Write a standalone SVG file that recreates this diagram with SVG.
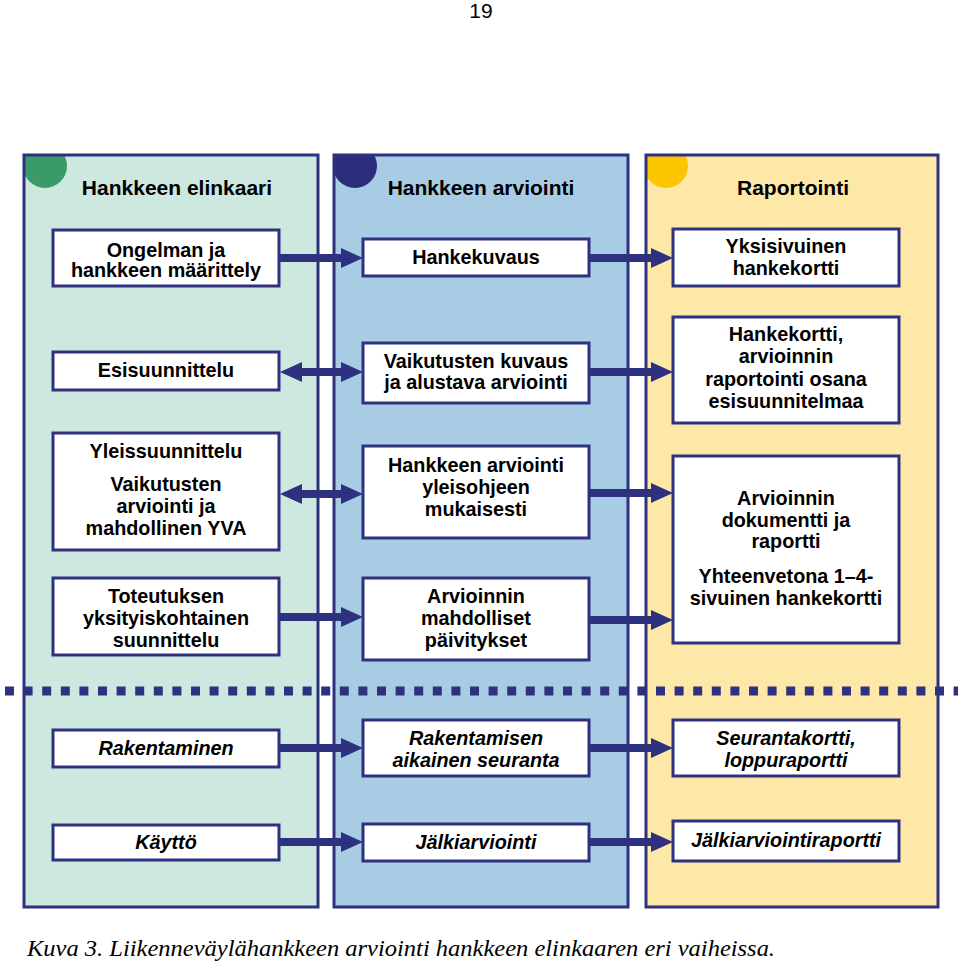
<svg xmlns="http://www.w3.org/2000/svg" width="960" height="967" viewBox="0 0 960 967">
<style>
.col{stroke:#2e3180;stroke-width:3}
.box{fill:#fff;stroke:#2e3180;stroke-width:3}
.hd{font-family:"Liberation Sans",Arial,sans-serif;font-weight:bold;font-size:21px;fill:#000;text-anchor:middle}
.t{font-family:"Liberation Sans",Arial,sans-serif;font-weight:bold;font-size:19.8px;fill:#000;text-anchor:middle}
.i{font-style:italic}
.arr{stroke:#2e3180;stroke-width:8;fill:none;marker-end:url(#ah)}
.dbl{marker-start:url(#ah)}
.dots{stroke:#2e3180;stroke-width:9;stroke-dasharray:9 9.6;fill:none}
</style>
<defs>
<marker id="ah" markerUnits="userSpaceOnUse" markerWidth="22" markerHeight="20" refX="0" refY="10" orient="auto-start-reverse" viewBox="0 0 22 20">
<path d="M0,0 L22,10 L0,20 z" fill="#2e3180"/>
</marker>
<clipPath id="c1"><rect x="24" y="155" width="294" height="752"/></clipPath>
<clipPath id="c2"><rect x="334" y="155" width="294" height="752"/></clipPath>
<clipPath id="c3"><rect x="646" y="155" width="292" height="752"/></clipPath>
</defs>
<rect width="960" height="967" fill="#fff"/>
<text x="481" y="18" font-family="'Liberation Sans',Arial,sans-serif" font-size="21" text-anchor="middle">19</text>

<g id="col-elinkaari">
<rect x="24" y="155" width="294" height="752" fill="#cde9df"/>
<circle cx="45" cy="166" r="22" fill="#3a9a68" clip-path="url(#c1)"/>
<rect class="col" x="24" y="155" width="294" height="752" fill="none"/>
<text class="hd" x="177" y="195">Hankkeen elinkaari</text>
</g>
<g id="col-arviointi">
<rect x="334" y="155" width="294" height="752" fill="#a8cce4"/>
<circle cx="355" cy="166" r="22" fill="#2b2d7c" clip-path="url(#c2)"/>
<rect class="col" x="334" y="155" width="294" height="752" fill="none"/>
<text class="hd" x="481" y="195">Hankkeen arviointi</text>
</g>
<g id="col-raportointi">
<rect x="646" y="155" width="292" height="752" fill="#fde8a8"/>
<circle cx="666" cy="166" r="22" fill="#fbc500" clip-path="url(#c3)"/>
<rect class="col" x="646" y="155" width="292" height="752" fill="none"/>
<text class="hd" x="793" y="195">Raportointi</text>
</g>

<path class="dots" d="M5,691 H958"/>

<g id="n-ongelma"><rect class="box" x="53" y="230" width="226" height="56"/>
<text class="t" x="166" y="257">Ongelman ja</text><text class="t" x="166" y="277">hankkeen määrittely</text></g>
<g id="n-esisuunnittelu"><rect class="box" x="53" y="352" width="226" height="38"/>
<text class="t" x="166" y="377">Esisuunnittelu</text></g>
<g id="n-yleissuunnittelu"><rect class="box" x="53" y="433" width="226" height="117"/>
<text class="t" x="166" y="458">Yleissuunnittelu</text><text class="t" x="166" y="491">Vaikutusten</text><text class="t" x="166" y="513">arviointi ja</text><text class="t" x="166" y="535">mahdollinen YVA</text></g>
<g id="n-toteutus"><rect class="box" x="53" y="578" width="226" height="77"/>
<text class="t" x="166" y="603">Toteutuksen</text><text class="t" x="166" y="625">yksityiskohtainen</text><text class="t" x="166" y="647">suunnittelu</text></g>
<g id="n-rakentaminen"><rect class="box" x="53" y="730" width="226" height="37"/>
<text class="t i" x="166" y="755">Rakentaminen</text></g>
<g id="n-kaytto"><rect class="box" x="53" y="825" width="226" height="35"/>
<text class="t i" x="166" y="849">Käyttö</text></g>

<g id="n-hankekuvaus"><rect class="box" x="363" y="239" width="226" height="37"/>
<text class="t" x="476" y="264">Hankekuvaus</text></g>
<g id="n-vaikutusten-kuvaus"><rect class="box" x="363" y="343" width="226" height="60"/>
<text class="t" x="476" y="368">Vaikutusten kuvaus</text><text class="t" x="476" y="389">ja alustava arviointi</text></g>
<g id="n-hankkeen-arviointi"><rect class="box" x="363" y="446" width="226" height="92"/>
<text class="t" x="476" y="472">Hankkeen arviointi</text><text class="t" x="476" y="494">yleisohjeen</text><text class="t" x="476" y="516">mukaisesti</text></g>
<g id="n-paivitykset"><rect class="box" x="363" y="578" width="226" height="82"/>
<text class="t" x="476" y="603">Arvioinnin</text><text class="t" x="476" y="625">mahdolliset</text><text class="t" x="476" y="647">päivitykset</text></g>
<g id="n-seuranta"><rect class="box" x="363" y="720" width="226" height="56"/>
<text class="t i" x="476" y="745">Rakentamisen</text><text class="t i" x="476" y="767">aikainen seuranta</text></g>
<g id="n-jalkiarviointi"><rect class="box" x="363" y="824" width="226" height="37"/>
<text class="t i" x="476" y="849">Jälkiarviointi</text></g>

<g id="n-yksisivuinen"><rect class="box" x="673" y="229" width="226" height="57"/>
<text class="t" x="786" y="253">Yksisivuinen</text><text class="t" x="786" y="275">hankekortti</text></g>
<g id="n-hankekortti"><rect class="box" x="673" y="317" width="226" height="106"/>
<text class="t" x="786" y="341">Hankekortti,</text><text class="t" x="786" y="363">arvioinnin</text><text class="t" x="786" y="386">raportointi osana</text><text class="t" x="786" y="408">esisuunnitelmaa</text></g>
<g id="n-dokumentti"><rect class="box" x="673" y="456" width="226" height="187"/>
<text class="t" x="786" y="505">Arvioinnin</text><text class="t" x="786" y="527">dokumentti ja</text><text class="t" x="786" y="548">raportti</text><text class="t" x="786" y="583">Yhteenvetona 1–4-</text><text class="t" x="786" y="605">sivuinen hankekortti</text></g>
<g id="n-seurantakortti"><rect class="box" x="673" y="720" width="226" height="56"/>
<text class="t i" x="786" y="745">Seurantakortti,</text><text class="t i" x="786" y="767">loppuraportti</text></g>
<g id="n-jalkiraportti"><rect class="box" x="673" y="821" width="226" height="40"/>
<text class="t i" x="786" y="847">Jälkiarviointiraportti</text></g>

<g id="connectors">
<line class="arr" x1="280" y1="258" x2="341" y2="258"/>
<line class="arr" x1="590" y1="258" x2="651" y2="258"/>
<line class="arr dbl" x1="302" y1="372" x2="341" y2="372"/>
<line class="arr" x1="590" y1="372" x2="651" y2="372"/>
<line class="arr dbl" x1="302" y1="494" x2="341" y2="494"/>
<line class="arr" x1="590" y1="493" x2="651" y2="493"/>
<line class="arr" x1="280" y1="617" x2="341" y2="617"/>
<line class="arr" x1="590" y1="620" x2="651" y2="620"/>
<line class="arr" x1="280" y1="748" x2="341" y2="748"/>
<line class="arr" x1="590" y1="748" x2="651" y2="748"/>
<line class="arr" x1="280" y1="842" x2="341" y2="842"/>
<line class="arr" x1="590" y1="842" x2="651" y2="842"/>
</g>

<text x="27" y="956" font-family="'Liberation Serif','Times New Roman',serif" font-style="italic" font-size="23" textLength="748" lengthAdjust="spacingAndGlyphs">Kuva 3. Liikenneväylähankkeen arviointi hankkeen elinkaaren eri vaiheissa.</text>
</svg>
